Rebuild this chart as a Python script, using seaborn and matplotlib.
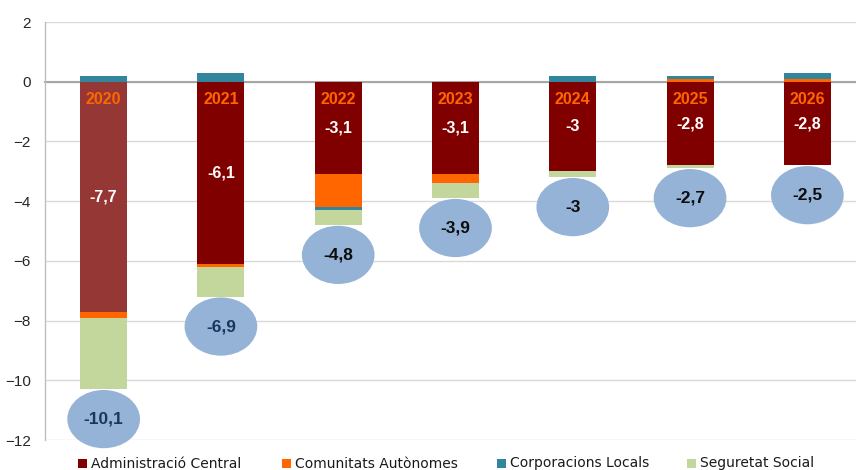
import matplotlib
matplotlib.use("Agg")
import matplotlib.pyplot as plt
from matplotlib.patches import Ellipse, Rectangle
import numpy as np
import seaborn as sns

# Deficit by administration (% of GDP)
years = ["2020", "2021", "2022", "2023", "2024", "2025", "2026"]
admin_central = [-7.7, -6.1, -3.1, -3.1, -3.0, -2.8, -2.8]
comunitats = [-0.2, -0.1, -1.1, -0.3, 0.0, 0.1, 0.1]
corporacions = [0.2, 0.3, -0.1, 0.0, 0.2, 0.1, 0.2]
seguretat = [-2.4, -1.0, -0.5, -0.5, -0.2, -0.1, 0.0]
y_ticks = [2, 0, -2, -4, -6, -8, -10, -12]

series_names = ["Administració Central", "Comunitats Autònomes",
                "Corporacions Locals", "Seguretat Social"]
series_colors = ["#800000", "#FF6600", "#31859C", "#C3D69B"]
admin_palette = ["#953735"] + ["#800000"] * 6

sns.set_style("white")
plt.rcParams["font.family"] = ["Liberation Sans", "DejaVu Sans"]


def fmt(v):
    return f"{round(v, 1):g}".replace(".", ",")


fig = plt.figure(figsize=(8.56, 4.70), dpi=100)
ax = fig.add_axes([45 / 856, 30 / 470, 821 / 856, 418 / 470])

all_series = [admin_central, comunitats, corporacions, seguretat]
pos_base = np.zeros(len(years))
neg_base = np.zeros(len(years))
for k, (vals, col) in enumerate(zip(all_series, series_colors)):
    v = np.array(vals, dtype=float)
    bottom = np.where(v >= 0, pos_base, neg_base)
    if k == 0:
        sns.barplot(x=years, y=v, hue=years, palette=admin_palette, order=years,
                    width=0.4, saturation=1, errorbar=None, legend=False,
                    linewidth=0, ax=ax, zorder=2)
    else:
        sns.barplot(x=years, y=v, order=years, color=col, bottom=bottom,
                    width=0.4, saturation=1, errorbar=None, linewidth=0,
                    ax=ax, zorder=2)
    pos_base += np.where(v > 0, v, 0)
    neg_base += np.where(v < 0, v, 0)

totals = np.round(pos_base + neg_base, 1)

ax.set_xlim(-0.5, 6.5)
ax.set_ylim(-12, 2)
ax.set_yticks(y_ticks)
ax.set_xticks([i + 0.5 for i in range(len(years) - 1)])
ax.set_xlabel("")
ax.set_ylabel("")
ax.tick_params(axis="x", labelbottom=False, length=4, width=1,
               color="#A6A6A6", direction="out")
ax.tick_params(axis="y", length=4, width=1, color="#BFBFBF",
               direction="out", labelsize=11, labelcolor="#262626", pad=6)
ax.xaxis.grid(False)
ax.yaxis.grid(True, color="#D9D9D9", linewidth=1)
ax.set_axisbelow(True)
for side in ["top", "right"]:
    ax.spines[side].set_visible(False)
ax.spines["left"].set_color("#BFBFBF")
ax.spines["left"].set_linewidth(1)
ax.spines["bottom"].set_position(("data", 0))
ax.spines["bottom"].set_color("#A6A6A6")
ax.spines["bottom"].set_linewidth(1.5)
ax.spines["bottom"].set_zorder(1)

# Year labels and central administration values inside the bars
for i, (yr, v) in enumerate(zip(years, admin_central)):
    ax.text(i, -0.6, yr, color="#FF6600", fontsize=11.5, fontweight="bold",
            ha="center", va="center", zorder=5)
    ax.text(i, v / 2, fmt(v), color="white", fontsize=11.5, fontweight="bold",
            ha="center", va="center", zorder=5)

# Total balance in a bubble under each bar
total_colors = ["#17375E", "#17375E"] + ["#0D0D0D"] * 5
for i, (tot, nb) in enumerate(zip(totals, neg_base)):
    cy = nb - 1.0
    ax.add_patch(Ellipse((i, cy), 0.62, 1.95, facecolor="#95B3D7",
                         edgecolor="none", zorder=4, clip_on=False))
    ax.text(i, cy, fmt(tot), color=total_colors[i], fontsize=12.5,
            fontweight="bold", ha="center", va="center", zorder=6,
            clip_on=False)

# Legend along the bottom edge
legend_x = [78, 282, 497, 687]
for x0, name, col in zip(legend_x, series_names, series_colors):
    fig.patches.append(Rectangle((x0 / 856, (470 - 467.5) / 470), 9 / 856,
                                 9 / 470, transform=fig.transFigure,
                                 facecolor=col, edgecolor="none"))
    fig.text((x0 + 13) / 856, (470 - 467.5) / 470, name, fontsize=10,
             family=["DejaVu Sans"], color="#1A1A1A", ha="left",
             va="baseline")

fig.savefig("out.png", dpi=100)
